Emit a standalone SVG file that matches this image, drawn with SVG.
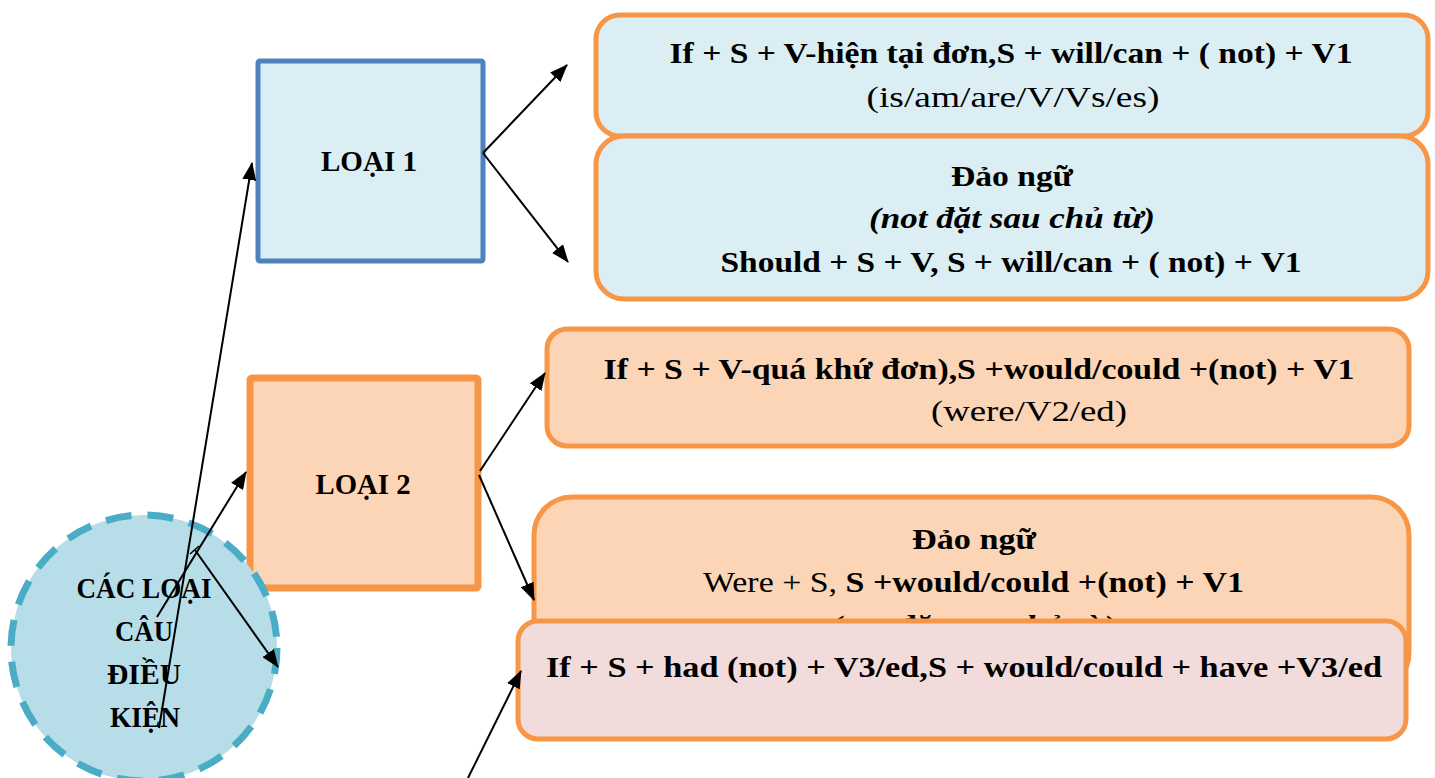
<svg xmlns="http://www.w3.org/2000/svg" width="1435" height="778" viewBox="0 0 1435 778">
<defs>
<marker id="arr" markerWidth="18" markerHeight="14" refX="17" refY="7" orient="auto" markerUnits="userSpaceOnUse">
<path d="M0,0 L18,7 L0,14 z" fill="#000"/>
</marker>
<style>
.t{font-family:"Liberation Serif","DejaVu Serif",serif;font-size:30px;fill:#000;text-anchor:middle}
.b{font-weight:bold}
.i{font-style:italic}
.n{font-weight:normal}
.ob{stroke:#f79646;stroke-width:5}
.c{fill:none;stroke:#000;stroke-width:2;marker-end:url(#arr)}
</style>
</defs>
<rect width="1435" height="778" fill="#fff"/>
<g id="loai1">
<rect x="258" y="61" width="225" height="200" rx="2" fill="#dbeef3" stroke="#4f81bd" stroke-width="5"/>
<text class="t b" x="369" y="171" textLength="96" lengthAdjust="spacingAndGlyphs">LOẠI 1</text>
</g>
<g id="loai2">
<rect x="250" y="378" width="228" height="210" rx="2" fill="#fbd5b5" stroke="#f79646" stroke-width="7"/>
<text class="t b" x="363" y="494" textLength="95" lengthAdjust="spacingAndGlyphs">LOẠI 2</text>
</g>
<g id="root">
<circle cx="144" cy="648" r="133" fill="#b7dde8" stroke="#4bacc6" stroke-width="7" stroke-dasharray="26 16"/>
<text class="t b" x="144" y="598" textLength="135" lengthAdjust="spacingAndGlyphs">CÁC LOẠI</text>
<text class="t b" x="144" y="641" textLength="58" lengthAdjust="spacingAndGlyphs">CÂU</text>
<text class="t b" x="144" y="684" textLength="74" lengthAdjust="spacingAndGlyphs">ĐIỀU</text>
<text class="t b" x="145" y="727" textLength="70" lengthAdjust="spacingAndGlyphs">KIỆN</text>
</g>
<g id="l1a">
<rect x="596" y="15" width="832" height="121" rx="24" fill="#daeef3" class="ob"/>
<text class="t b" x="1011" y="63" textLength="683" lengthAdjust="spacingAndGlyphs">If + S + V-hiện tại đơn,S + will/can + ( not) + V1</text>
<text class="t n" x="1013" y="107" textLength="293" lengthAdjust="spacingAndGlyphs">(is/am/are/V/Vs/es)</text>
</g>
<g id="l1b">
<rect x="596" y="136" width="832" height="163" rx="28" fill="#daeef3" class="ob"/>
<text class="t b" x="1012" y="186" textLength="122" lengthAdjust="spacingAndGlyphs">Đảo ngữ</text>
<text class="t b i" x="1012" y="228" textLength="286" lengthAdjust="spacingAndGlyphs">(not đặt sau chủ từ)</text>
<text class="t b" x="1011" y="272" textLength="581" lengthAdjust="spacingAndGlyphs">Should + S + V, S + will/can + ( not) + V1</text>
</g>
<g id="l2a">
<rect x="547" y="329" width="862" height="117" rx="20" fill="#fbd5b5" class="ob"/>
<text class="t b" x="979" y="379" textLength="751" lengthAdjust="spacingAndGlyphs">If + S + V-quá khứ đơn),S +would/could +(not) + V1</text>
<text class="t n" x="1029" y="421" textLength="196" lengthAdjust="spacingAndGlyphs">(were/V2/ed)</text>
</g>
<g id="l2b">
<rect x="534" y="497" width="875" height="194" rx="38" fill="#fbd5b5" class="ob"/>
<text class="t b" x="974" y="549" textLength="124" lengthAdjust="spacingAndGlyphs">Đảo ngữ</text>
<text class="t" x="703" y="592" style="text-anchor:start" textLength="541" lengthAdjust="spacingAndGlyphs"><tspan class="n">Were + S, </tspan><tspan class="b">S +would/could +(not) + V1</tspan></text>
<text class="t b i" x="973" y="636" textLength="286" lengthAdjust="spacingAndGlyphs">(not đặt sau chủ từ)</text>
</g>
<g id="l3">
<rect x="518" y="621" width="888" height="118" rx="20" fill="#f2dcdb" class="ob"/>
<text class="t b" x="964" y="677" textLength="836" lengthAdjust="spacingAndGlyphs">If + S + had (not) + V3/ed,S + would/could + have +V3/ed</text>
</g>
<g id="connectors">
<line class="c" x1="159" y1="728" x2="252" y2="163"/>
<line class="c" x1="157" y1="617" x2="246" y2="472"/>
<line class="c" x1="195" y1="550" x2="278" y2="667"/>
<line x1="190" y1="554" x2="199" y2="546" stroke="#000" stroke-width="1.5"/>
<line class="c" x1="483" y1="153" x2="567" y2="65"/>
<line class="c" x1="483" y1="153" x2="568" y2="262"/>
<line class="c" x1="480" y1="471" x2="545" y2="373"/>
<line class="c" x1="479" y1="475" x2="534" y2="600"/>
<line class="c" x1="468" y1="778" x2="521" y2="671"/>
</g>
</svg>
